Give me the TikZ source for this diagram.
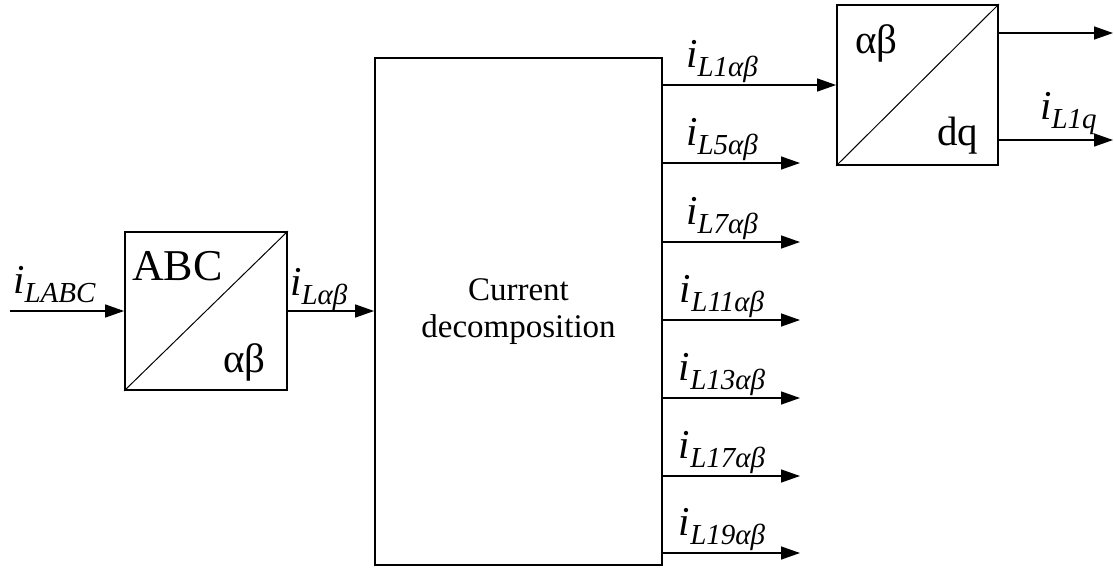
\documentclass[tikz,border=0pt]{standalone}
\usepackage{fontspec}
\setmainfont{Liberation Serif}
\usetikzlibrary{arrows.meta}
\newcommand{\cur}[1]{{\fontsize{41}{41}\selectfont\itshape i}\raisebox{-9pt}{\fontsize{29}{29}\selectfont\itshape #1}}
\begin{document}
\begin{tikzpicture}[x=1pt,y=-1pt,
  blk/.style={draw, line width=1.8pt, inner sep=0pt},
  arr/.style={line width=1.4pt, -{Triangle[length=19pt,width=13pt]}},
  diag/.style={line width=1pt},
  lbl/.style={inner sep=0pt, anchor=base},
  lblw/.style={inner sep=0pt, anchor=base west},
  big/.style={font=\fontsize{44}{44}\selectfont},
  mid/.style={font=\fontsize{41}{41}\selectfont}]
\useasboundingbox (0,0) rectangle (1114,568);
% blocks
\node[blk, minimum width=162pt, minimum height=158pt] (abc) at (206,311) {};
\node[blk, minimum width=287pt, minimum height=507pt, align=center,
      font=\fontsize{33}{37}\selectfont] (main) at (518.5,311.5) {Current\\decomposition};
\node[blk, minimum width=161pt, minimum height=160pt] (dq) at (917.5,85) {};
\draw[diag] (abc.south west) -- (abc.north east);
\draw[diag] (dq.south west) -- (dq.north east);
% block texts
\node[lblw, big] (tabc) at (132,280) {ABC};
\node[lblw, mid] (tab1) at (223,372) {αβ};
\node[lblw, mid] (tab2) at (855,53) {αβ};
\node[lblw, mid] (tdq) at (937,145) {dq};
% coordinates of free ends
\coordinate (in) at (10,311);
\coordinate (o5) at (800,163);
\coordinate (o7) at (800,242);
\coordinate (o11) at (800,320);
\coordinate (o13) at (800,398);
\coordinate (o17) at (800,476);
\coordinate (o19) at (800,553);
\coordinate (q1) at (1113,33);
\coordinate (q2) at (1113,140);
% connectors
\draw[arr] (in) -- (in -| abc.west);
\draw[arr] (abc.east) -- (abc.east -| main.west);
\draw[arr] (main.east |- dq.west) -- (dq.west);
\foreach \o in {o5,o7,o11,o13,o17,o19} \draw[arr] (main.east |- \o) -- (\o);
\draw[arr] (dq.east |- q1) -- (q1);
\draw[arr] (dq.east |- q2) -- (q2);
% labels
\node[lblw] (lin) at (13,293) {\cur{LABC}};
\node[lblw] (lab) at (290,295) {\cur{Lαβ}};
\node[lbl] (l1) at (722,67) {\cur{L1αβ}};
\node[lbl] (l5) at (722,145) {\cur{L5αβ}};
\node[lbl] (l7) at (722,224) {\cur{L7αβ}};
\node[lbl] (l11) at (722,302) {\cur{L11αβ}};
\node[lbl] (l13) at (722,380) {\cur{L13αβ}};
\node[lbl] (l17) at (722,458) {\cur{L17αβ}};
\node[lbl] (l19) at (722,535) {\cur{L19αβ}};
\node[lblw] (lq) at (1040,119) {\cur{L1q}};
\end{tikzpicture}
\end{document}
